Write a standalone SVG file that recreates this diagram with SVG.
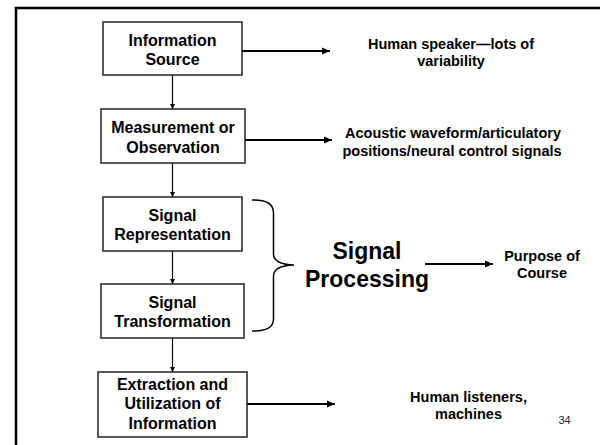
<svg xmlns="http://www.w3.org/2000/svg" width="600" height="445" viewBox="0 0 600 445">
<style>
  .box{fill:#fff;stroke:#222;stroke-width:1.5}
  .bt{font-family:"Liberation Sans",Arial,sans-serif;font-weight:bold;font-size:16px;fill:#000;text-anchor:middle}
  .rt{font-family:"Liberation Sans",Arial,sans-serif;font-weight:bold;font-size:14.5px;fill:#000;text-anchor:middle}
  .big{font-family:"Liberation Sans",Arial,sans-serif;font-weight:bold;font-size:23px;fill:#000;text-anchor:middle}
  .v{stroke:#000;stroke-width:1.2;fill:none;marker-end:url(#sm)}
  .h{stroke:#000;stroke-width:2;fill:none;marker-end:url(#lg)}
</style>
<defs>
  <marker id="sm" markerUnits="userSpaceOnUse" markerWidth="6" markerHeight="6" refX="5" refY="3" orient="auto">
    <path d="M0,0.5 L5,3 L0,5.5 z" fill="#000"/>
  </marker>
  <marker id="lg" markerUnits="userSpaceOnUse" markerWidth="9" markerHeight="8" refX="8" refY="4" orient="auto">
    <path d="M0,0.5 L8,4 L0,7.5 z" fill="#000"/>
  </marker>
</defs>
<rect width="600" height="445" fill="#fff"/>
<g id="frame" stroke="#000" stroke-width="2.5" fill="none">
  <line x1="14.8" y1="8" x2="600" y2="8"/>
  <line x1="16" y1="7" x2="16" y2="445"/>
</g>
<g id="connectors">
  <line class="v" x1="172.5" y1="75" x2="172.5" y2="109"/>
  <line class="v" x1="172.5" y1="163" x2="172.5" y2="197"/>
  <line class="v" x1="172.5" y1="251" x2="172.5" y2="284"/>
  <line class="v" x1="172.5" y1="338" x2="172.5" y2="372"/>
  <line class="h" x1="242" y1="51" x2="330" y2="51"/>
  <line class="h" x1="245" y1="140" x2="332" y2="140"/>
  <line class="h" x1="247" y1="404" x2="335" y2="404"/>
  <line class="h" x1="425" y1="264" x2="493" y2="264"/>
  <path d="M252,200 C266,200 273.5,203 273.5,213 L273.5,254 C273.5,261 280,264.5 294,265 C280,265.5 273.5,269 273.5,276 L273.5,319 C273.5,328 266,331 252,331" fill="none" stroke="#000" stroke-width="1.5"/>
</g>
<g id="n1">
  <rect class="box" x="103" y="22" width="139" height="53"/>
  <text class="bt" x="172.5" y="45.5">Information</text>
  <text class="bt" x="172.5" y="64.5">Source</text>
</g>
<g id="n2">
  <rect class="box" x="101" y="109" width="144" height="54"/>
  <text class="bt" x="173" y="132.5">Measurement or</text>
  <text class="bt" x="173" y="152.5">Observation</text>
</g>
<g id="n3">
  <rect class="box" x="103" y="197" width="139" height="54"/>
  <text class="bt" x="172.5" y="220.5">Signal</text>
  <text class="bt" x="172.5" y="239.5">Representation</text>
</g>
<g id="n4">
  <rect class="box" x="101" y="284" width="143" height="54"/>
  <text class="bt" x="172.5" y="308">Signal</text>
  <text class="bt" x="172.5" y="327">Transformation</text>
</g>
<g id="n5">
  <rect class="box" x="98" y="372" width="149" height="65"/>
  <text class="bt" x="172.5" y="389.5">Extraction and</text>
  <text class="bt" x="172.5" y="408.5">Utilization of</text>
  <text class="bt" x="172.5" y="429">Information</text>
</g>
<g id="t1">
  <text class="rt" x="451" y="49">Human speaker—lots of</text>
  <text class="rt" x="451" y="65.5">variability</text>
</g>
<g id="t2">
  <text class="rt" x="453" y="137.5">Acoustic waveform/articulatory</text>
  <text class="rt" x="452" y="156">positions/neural control signals</text>
</g>
<g id="sp">
  <text class="big" x="367" y="259">Signal</text>
  <text class="big" x="367" y="287">Processing</text>
</g>
<g id="t3">
  <text class="rt" x="542" y="260.5">Purpose of</text>
  <text class="rt" x="542" y="278">Course</text>
</g>
<g id="t4">
  <text class="rt" x="468.5" y="401.5">Human listeners,</text>
  <text class="rt" x="468.5" y="419">machines</text>
</g>
<text x="564.5" y="424" font-family="Liberation Sans,Arial,sans-serif" font-size="11" text-anchor="middle" fill="#222">34</text>
</svg>
